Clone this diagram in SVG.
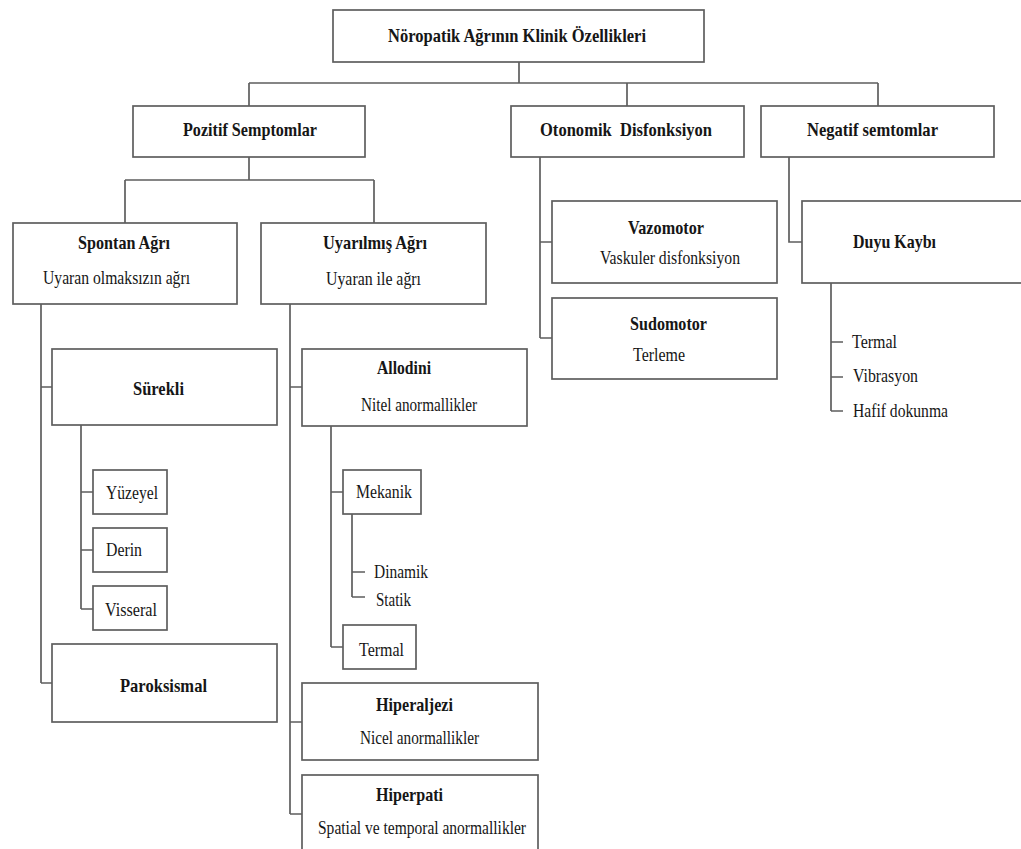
<svg xmlns="http://www.w3.org/2000/svg" width="1021" height="849" viewBox="0 0 1021 849">
<style>
.box{fill:#ffffff;stroke:#5e5e5e;stroke-width:1.7}
.ln{fill:none;stroke:#5e5e5e;stroke-width:1.7}
text{font-family:'Liberation Serif','Times New Roman',Times,serif;font-size:19px;fill:#161616}
.b{font-weight:bold}
</style>
<rect width="1021" height="849" fill="#ffffff"/>
<g id="connectors">
<path class="ln" d="M519,62 V83 M249,83 H878 M249,83 V106 M627,83 V106 M878,83 V106"/>
<path class="ln" d="M249,157 V180 M125,180 H374 M125,180 V223 M374,180 V223"/>
<path class="ln" d="M41,304 V683 M41,387 H52 M41,683 H52"/>
<path class="ln" d="M81,425 V609 M81,492 H93 M81,550 H93 M81,609 H93"/>
<path class="ln" d="M290,304 V814 M290,387 H302 M290,722 H302 M290,814 H302"/>
<path class="ln" d="M331,426 V647 M331,492 H343 M331,647 H343"/>
<path class="ln" d="M352,514 V597 M352,572 H365 M352,597 H365"/>
<path class="ln" d="M540,157 V338 M540,242 H552 M540,338 H552"/>
<path class="ln" d="M789,157 V242 H802"/>
<path class="ln" d="M831,283 V411 M831,342 H843 M831,377 H843 M831,411 H843"/>
</g>
<g id="root"><rect class="box" x="333" y="10" width="371" height="52"/><text class="b" x="388" y="42" textLength="258" lengthAdjust="spacingAndGlyphs">Nöropatik Ağrının Klinik Özellikleri</text></g>
<g id="pozitif"><rect class="box" x="133" y="106" width="232" height="51"/><text class="b" x="183" y="136" textLength="134" lengthAdjust="spacingAndGlyphs">Pozitif Semptomlar</text></g>
<g id="otonomik"><rect class="box" x="511" y="106" width="233" height="51"/><text class="b" x="540" y="136" textLength="172" lengthAdjust="spacingAndGlyphs" xml:space="preserve">Otonomik  Disfonksiyon</text></g>
<g id="negatif"><rect class="box" x="761" y="106" width="233" height="51"/><text class="b" x="807" y="136" textLength="131" lengthAdjust="spacingAndGlyphs">Negatif semtomlar</text></g>
<g id="spontan"><rect class="box" x="13" y="223" width="224" height="81"/><text class="b" x="78" y="249" textLength="92" lengthAdjust="spacingAndGlyphs">Spontan Ağrı</text><text x="43" y="284" textLength="147" lengthAdjust="spacingAndGlyphs">Uyaran olmaksızın ağrı</text></g>
<g id="uyarilmis"><rect class="box" x="261" y="223" width="225" height="81"/><text class="b" x="323" y="249" textLength="104" lengthAdjust="spacingAndGlyphs">Uyarılmış Ağrı</text><text x="326" y="285" textLength="95" lengthAdjust="spacingAndGlyphs">Uyaran ile ağrı</text></g>
<g id="vazomotor"><rect class="box" x="552" y="201" width="225" height="82"/><text class="b" x="628" y="234" textLength="76" lengthAdjust="spacingAndGlyphs">Vazomotor</text><text x="600" y="264" textLength="140" lengthAdjust="spacingAndGlyphs">Vaskuler disfonksiyon</text></g>
<g id="sudomotor"><rect class="box" x="552" y="298" width="225" height="81"/><text class="b" x="630" y="330" textLength="77" lengthAdjust="spacingAndGlyphs">Sudomotor</text><text x="633" y="361" textLength="52" lengthAdjust="spacingAndGlyphs">Terleme</text></g>
<g id="duyu"><rect class="box" x="802" y="201" width="240" height="82"/><text class="b" x="853" y="248" textLength="83" lengthAdjust="spacingAndGlyphs">Duyu Kaybı</text></g>
<g id="duyu-items"><text x="852" y="348" textLength="45" lengthAdjust="spacingAndGlyphs">Termal</text><text x="853" y="382" textLength="65" lengthAdjust="spacingAndGlyphs">Vibrasyon</text><text x="853" y="417" textLength="95" lengthAdjust="spacingAndGlyphs">Hafif dokunma</text></g>
<g id="surekli"><rect class="box" x="52" y="349" width="225" height="76"/><text class="b" x="133" y="395" textLength="51" lengthAdjust="spacingAndGlyphs">Sürekli</text></g>
<g id="yuzeyel"><rect class="box" x="93" y="470" width="74" height="44"/><text x="106" y="499" textLength="52" lengthAdjust="spacingAndGlyphs">Yüzeyel</text></g>
<g id="derin"><rect class="box" x="93" y="528" width="74" height="44"/><text x="106" y="556" textLength="36" lengthAdjust="spacingAndGlyphs">Derin</text></g>
<g id="visseral"><rect class="box" x="93" y="586" width="74" height="44"/><text x="105" y="616" textLength="52" lengthAdjust="spacingAndGlyphs">Visseral</text></g>
<g id="paroksismal"><rect class="box" x="52" y="644" width="225" height="78"/><text class="b" x="120" y="692" textLength="87" lengthAdjust="spacingAndGlyphs">Paroksismal</text></g>
<g id="allodini"><rect class="box" x="302" y="349" width="225" height="77"/><text class="b" x="377" y="374" textLength="54" lengthAdjust="spacingAndGlyphs">Allodini</text><text x="361" y="411" textLength="116" lengthAdjust="spacingAndGlyphs">Nitel anormallikler</text></g>
<g id="mekanik"><rect class="box" x="343" y="470" width="78" height="44"/><text x="356" y="498" textLength="56" lengthAdjust="spacingAndGlyphs">Mekanik</text></g>
<g id="mekanik-items"><text x="374" y="578" textLength="54" lengthAdjust="spacingAndGlyphs">Dinamik</text><text x="376" y="606" textLength="35" lengthAdjust="spacingAndGlyphs">Statik</text></g>
<g id="termal"><rect class="box" x="343" y="625" width="73" height="44"/><text x="359" y="656" textLength="45" lengthAdjust="spacingAndGlyphs">Termal</text></g>
<g id="hiperaljezi"><rect class="box" x="302" y="683" width="236" height="77"/><text class="b" x="376" y="711" textLength="77" lengthAdjust="spacingAndGlyphs">Hiperaljezi</text><text x="360" y="744" textLength="119" lengthAdjust="spacingAndGlyphs">Nicel anormallikler</text></g>
<g id="hiperpati"><rect class="box" x="302" y="775" width="236" height="90"/><text class="b" x="376" y="801" textLength="67" lengthAdjust="spacingAndGlyphs">Hiperpati</text><text x="318" y="834" textLength="208" lengthAdjust="spacingAndGlyphs">Spatial ve temporal anormallikler</text></g>
</svg>
